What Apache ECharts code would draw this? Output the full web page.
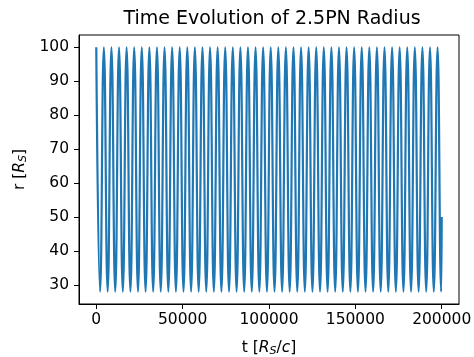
<!DOCTYPE html>
<html>
<head>
<meta charset="utf-8">
<script src="https://cdn.jsdelivr.net/npm/echarts@6/dist/echarts.min.js"></script>
<style>html,body{margin:0;padding:0;background:#fff}#c{width:474px;height:357px}</style>
</head>
<body>
<div id="c"></div>
<script>
// Extremes of r(t): apoapsis (100) and periapsis (28) passages, plus final sample
const tValues = [
  0, 2196, 4391, 6587, 8782, 10978, 13173, 15369, 17564, 19760,
  21955, 24151, 26346, 28542, 30737, 32933, 35128, 37324, 39519, 41715,
  43910, 46106, 48301, 50497, 52692, 54888, 57083, 59279, 61474, 63670,
  65865, 68061, 70256, 72452, 74647, 76843, 79038, 81234, 83429, 85625,
  87820, 90016, 92211, 94407, 96602, 98798, 100993, 103189, 105384, 107580,
  109775, 111971, 114166, 116362, 118557, 120753, 122948, 125144, 127339, 129535,
  131730, 133926, 136121, 138317, 140512, 142708, 144903, 147099, 149294, 151490,
  153685, 155881, 158076, 160272, 162467, 164663, 166858, 169054, 171249, 173445,
  175640, 177836, 180031, 182227, 184422, 186618, 188813, 191009, 193204, 195400,
  197595, 199700, 200000
];
const rValues = [
  100, 28, 100, 28, 100, 28, 100, 28, 100, 28,
  100, 28, 100, 28, 100, 28, 100, 28, 100, 28,
  100, 28, 100, 28, 100, 28, 100, 28, 100, 28,
  100, 28, 100, 28, 100, 28, 100, 28, 100, 28,
  100, 28, 100, 28, 100, 28, 100, 28, 100, 28,
  100, 28, 100, 28, 100, 28, 100, 28, 100, 28,
  100, 28, 100, 28, 100, 28, 100, 28, 100, 28,
  100, 28, 100, 28, 100, 28, 100, 28, 100, 28,
  100, 28, 100, 28, 100, 28, 100, 28, 100, 28,
  100, 28, 50
];
const xTicks = [0, 50000, 100000, 150000, 200000];
const yTicks = [30, 40, 50, 60, 70, 80, 90, 100];

const data = tValues.map((t, i) => [t, rValues[i]]);
const font = 'DejaVu Sans';
const fs = 15.5;
const rich = {
  i: {fontFamily: font, fontStyle: 'italic', fontSize: fs, color: '#000'},
  s: {fontFamily: font, fontStyle: 'italic', fontSize: 11, color: '#000', verticalAlign: 'bottom', padding: [7, 0, 0, 0]}
};
const chart = echarts.init(document.getElementById('c'), null, {renderer: 'canvas'});
chart.setOption({
  animation: false,
  backgroundColor: '#fff',
  title: {
    text: 'Time Evolution of 2.5PN Radius',
    left: 267, top: 5, textAlign: 'center',
    textStyle: {fontFamily: font, fontSize: 19, fontWeight: 'normal', color: '#000'}
  },
  grid: {left: 79, right: 15, top: 35, bottom: 53, outerBoundsMode: 'none', containLabel: false,
    show: true, borderColor: '#000', borderWidth: 1, backgroundColor: 'transparent'},
  xAxis: {
    type: 'value', min: -10000, max: 210000,
    name: 't [{i|R}{s|S}/{i|c}]',
    nameLocation: 'middle', nameGap: 35,
    nameTextStyle: {fontFamily: font, fontSize: fs, color: '#000', rich: rich},
    axisLine: {show: true, onZero: false, lineStyle: {color: '#000', width: 1}},
    axisTick: {show: true, length: 5, lineStyle: {color: '#000'}, customValues: xTicks},
    axisLabel: {fontFamily: font, fontSize: fs, color: '#000', margin: 8, customValues: xTicks,
      formatter: v => String(v)},
    splitLine: {show: false}
  },
  yAxis: {
    type: 'value', min: 24.4, max: 103.6,
    name: 'r [{i|R}{s|S}]',
    nameLocation: 'middle', nameGap: 50, nameRotate: 90,
    nameTextStyle: {fontFamily: font, fontSize: fs, color: '#000', rich: rich},
    axisLine: {show: true, onZero: false, lineStyle: {color: '#000', width: 1}},
    axisTick: {show: true, length: 5, lineStyle: {color: '#000'}, customValues: yTicks},
    axisLabel: {fontFamily: font, fontSize: fs, color: '#000', margin: 10, customValues: yTicks},
    splitLine: {show: false}
  },
  series: [{
    type: 'line',
    data: data,
    showSymbol: false,
    smooth: true,
    smoothMonotone: 'x',
    lineStyle: {color: '#1f77b4', width: 2.2},
    itemStyle: {color: '#1f77b4'}
  }]
});
</script>
</body>
</html>
